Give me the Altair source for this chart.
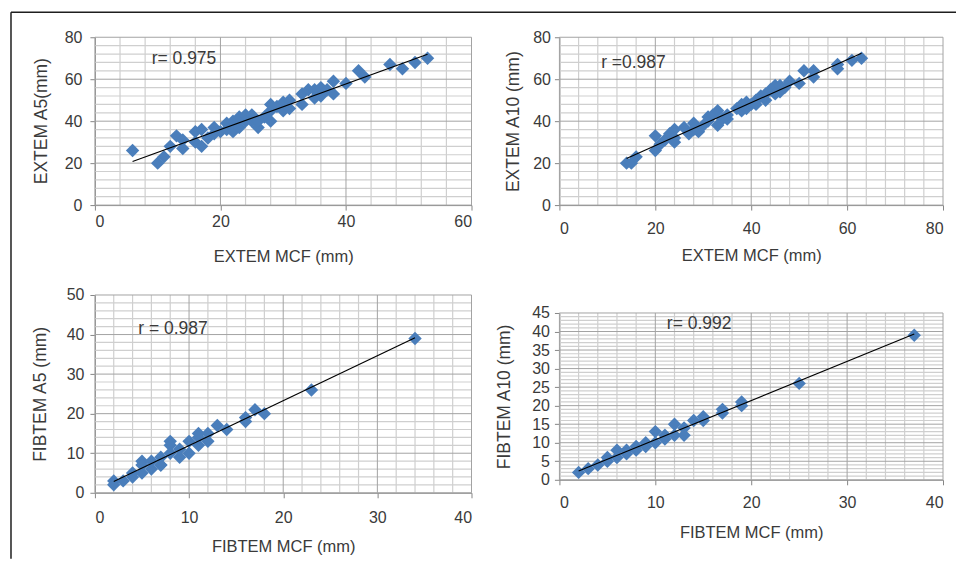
import altair as alt
import pandas as pd

# ---------------- data ----------------
# Panel 1: EXTEM MCF vs EXTEM A5
p1_x = [6, 10, 11, 12, 13, 14, 14, 16, 16, 17, 17, 18, 19, 19, 20, 21, 21, 22, 22, 22,
        23, 23, 24, 24, 25, 25, 26, 26, 27, 28, 28, 28, 29, 30, 30, 31, 31, 33, 33, 34,
        35, 35, 36, 36, 37, 38, 38, 40, 42, 43, 47, 49, 51, 53]
p1_y = [26, 20, 23, 28, 33, 31, 27, 35, 30, 36, 28, 32, 37, 34, 35, 39, 36, 35, 40, 37,
        42, 37, 43, 40, 43, 40, 37, 40, 42, 45, 40, 48, 47, 49, 45, 50, 46, 48, 53, 55,
        55, 51, 56, 52, 55, 59, 53, 58, 64, 61, 67, 65, 68, 70]

# Panel 2: EXTEM MCF vs EXTEM A10
p2_x = [14, 15, 16, 20, 20, 21, 22, 23, 24, 24, 24, 26, 27, 28, 28, 29, 30, 31, 31, 32,
        33, 33, 34, 35, 35, 37, 38, 38, 39, 39, 40, 41, 41, 42, 43, 43, 44, 45, 45, 46,
        46, 47, 48, 50, 51, 53, 53, 58, 58, 61, 63]
p2_y = [20, 20, 23, 33, 26, 29, 31, 34, 30, 36, 32, 37, 34, 39, 36, 35, 38, 42, 40, 43,
        45, 38, 41, 41, 43, 46, 48, 45, 46, 49, 48, 50, 48, 52, 50, 53, 55, 57, 53, 57,
        54, 56, 59, 58, 64, 64, 61, 67, 65, 69, 70]

# Panel 3: FIBTEM MCF vs FIBTEM A5
p3_x = [2, 2, 3, 4, 4, 5, 5, 5, 6, 6, 7, 7, 7, 8, 8, 8, 9, 9, 10, 10, 11, 11, 11, 12,
        12, 13, 14, 16, 16, 17, 18, 23, 34]
p3_y = [3, 2, 3, 5, 4, 8, 5, 7, 8, 6, 7, 9, 7, 13, 12, 10, 9, 11, 10, 13, 15, 12, 14, 13,
        15, 17, 16, 19, 18, 21, 20, 26, 39]

# Panel 4: FIBTEM MCF vs FIBTEM A10
p4_x = [2, 3, 4, 5, 5, 6, 6, 7, 7, 8, 8, 9, 9, 10, 10, 11, 11, 12, 12, 13, 13, 14, 15,
        15, 17, 17, 19, 19, 25, 37]
p4_y = [2, 3, 4, 6, 5, 8, 6, 8, 7, 9, 8, 10, 9, 13, 10, 12, 11, 15, 12, 14, 12, 16, 16,
        17, 19, 18, 21, 20, 26, 39]

# r annotations: text, x, y (data units)
r_labels = ["r= 0.975", "r =0.987", "r = 0.987", "r= 0.992"]
r_x = [9.05, 8.7, 4.6, 11.2]
r_y = [69.4, 67.6, 41.3, 41.9]

x_titles = ["EXTEM MCF (mm)", "EXTEM MCF (mm)", "FIBTEM MCF (mm)", "FIBTEM MCF (mm)"]
y_titles = ["EXTEM A5(mm)", "EXTEM A10 (mm)", "FIBTEM A5 (mm)", "FIBTEM A10 (mm)"]

# ---------------- style ----------------
FONT = "Liberation Sans"
TEXT = "#3a3a3a"
POINT = "#4a7ebb"
MINOR = "#cfcfcf"
MAJOR = "#a3a3a3"
FRAME = "#1e1e1e"


def panel(xs, ys, xmax, ymax, xstep, ystep, xminor, yminor, idx, w, h,
          ylabpad, ytitlex, xlabpad, xtitlepad, top_off=0, frame=False):
    df = pd.DataFrame({"x": xs, "y": ys})
    xsc = alt.Scale(domain=[0, xmax], nice=False, zero=True)
    ysc = alt.Scale(domain=[0, ymax], nice=False, zero=True, range=[h, top_off])
    xmaj = list(range(0, xmax + 1, xstep))
    ymaj = list(range(0, ymax + 1, ystep))
    xmin_ = [v for v in range(0, xmax + 1, xminor) if v not in xmaj]
    ymin_ = [v for v in range(0, ymax + 1, yminor) if v not in ymaj]

    xaxis = alt.Axis(values=xmaj, title=x_titles[idx], labelPadding=xlabpad,
                     titlePadding=xtitlepad, titleFontSize=16.5)
    if frame:
        yaxis = alt.Axis(values=ymaj, title=None, labelPadding=ylabpad)
    else:
        yaxis = alt.Axis(values=ymaj, title=y_titles[idx], labelPadding=ylabpad,
                         titleX=ytitlex, titleBaseline="middle", titleFontSize=17.5)

    def X(f):
        return alt.X(f, scale=xsc, axis=xaxis)

    def Y(f):
        return alt.Y(f, scale=ysc, axis=yaxis)

    pts = alt.Chart(df).mark_point(
        shape="diamond", filled=True, size=180, color=POINT, opacity=1
    ).encode(x=X("x:Q"), y=Y("y:Q"))

    gx_minor = alt.Chart(pd.DataFrame({"g": xmin_})).mark_rule(
        color=MINOR, strokeWidth=1.2).encode(
        x=X("g:Q"), y=alt.value(top_off), y2=alt.value(h))
    gy_minor = alt.Chart(pd.DataFrame({"g": ymin_})).mark_rule(
        color=MINOR, strokeWidth=1.2).encode(y=Y("g:Q"))
    gx_major = alt.Chart(pd.DataFrame({"g": xmaj})).mark_rule(
        color=MAJOR, strokeWidth=1).encode(
        x=X("g:Q"), y=alt.value(top_off), y2=alt.value(h))
    gy_major = alt.Chart(pd.DataFrame({"g": ymaj})).mark_rule(
        color=MAJOR, strokeWidth=1).encode(y=Y("g:Q"))

    fit = alt.Chart(df).transform_regression("x", "y").mark_line(
        color="black", strokeWidth=1.2
    ).encode(x=X("x:Q"), y=Y("y:Q"))

    ann = alt.Chart(pd.DataFrame({"x": [r_x[idx]], "y": [r_y[idx]], "t": [r_labels[idx]]})).mark_text(
        align="left", baseline="middle", font=FONT, fontSize=17.5, color=TEXT
    ).encode(x=X("x:Q"), y=Y("y:Q"), text="t:N")

    layers = [gx_minor, gy_minor, gx_major, gy_major, pts, fit, ann]
    if frame:
        one = pd.DataFrame({"t": [y_titles[idx]]})
        layers.append(alt.Chart(one).mark_text(
            angle=270, align="center", baseline="middle", font=FONT,
            fontSize=17.5, color=TEXT
        ).encode(x=alt.value(ytitlex), y=alt.value(h / 2), text="t:N"))
        layers.append(alt.Chart(one).mark_rule(color=FRAME, strokeWidth=1.5).encode(
            x=alt.value(-84), x2=alt.value(862), y=alt.value(-25)))
        layers.append(alt.Chart(one).mark_rule(color=FRAME, strokeWidth=1.5).encode(
            x=alt.value(-84), y=alt.value(-25), y2=alt.value(522)))
    return alt.layer(*layers).properties(
        width=w, height=h, view=alt.ViewBackground(stroke="transparent"))


p1 = panel(p1_x, p1_y, 60, 80, 20, 20, 4, 4, 0, 377, 168, 8, -53, 3, 19, frame=True)
p2 = panel(p2_x, p2_y, 80, 80, 20, 20, 4, 4, 1, 384, 168, 4, -46, 10, 11)
p3 = panel(p3_x, p3_y, 40, 50, 10, 10, 2, 2, 2, 377, 198, 6, -54, 12, 13)
p4 = panel(p4_x, p4_y, 40, 45, 10, 5, 2, 1, 3, 384, 185, 5, -55, 10, 14, top_off=18)

chart = alt.concat(
    p1, p2, p3, p4, columns=2, bounds="flush",
    spacing={"row": 90, "column": 88},
).properties(
    padding={"left": 1, "top": 2, "right": 0, "bottom": 0},
    background="white",
).configure_axis(
    labelFont=FONT, labelFontSize=16, labelColor=TEXT,
    titleFont=FONT, titleFontWeight="normal", titleColor=TEXT,
    domainColor="#868686", tickColor="#868686", tickSize=5, grid=False,
)

chart.save("out.html", embed_options={"renderer": "svg", "actions": False})
